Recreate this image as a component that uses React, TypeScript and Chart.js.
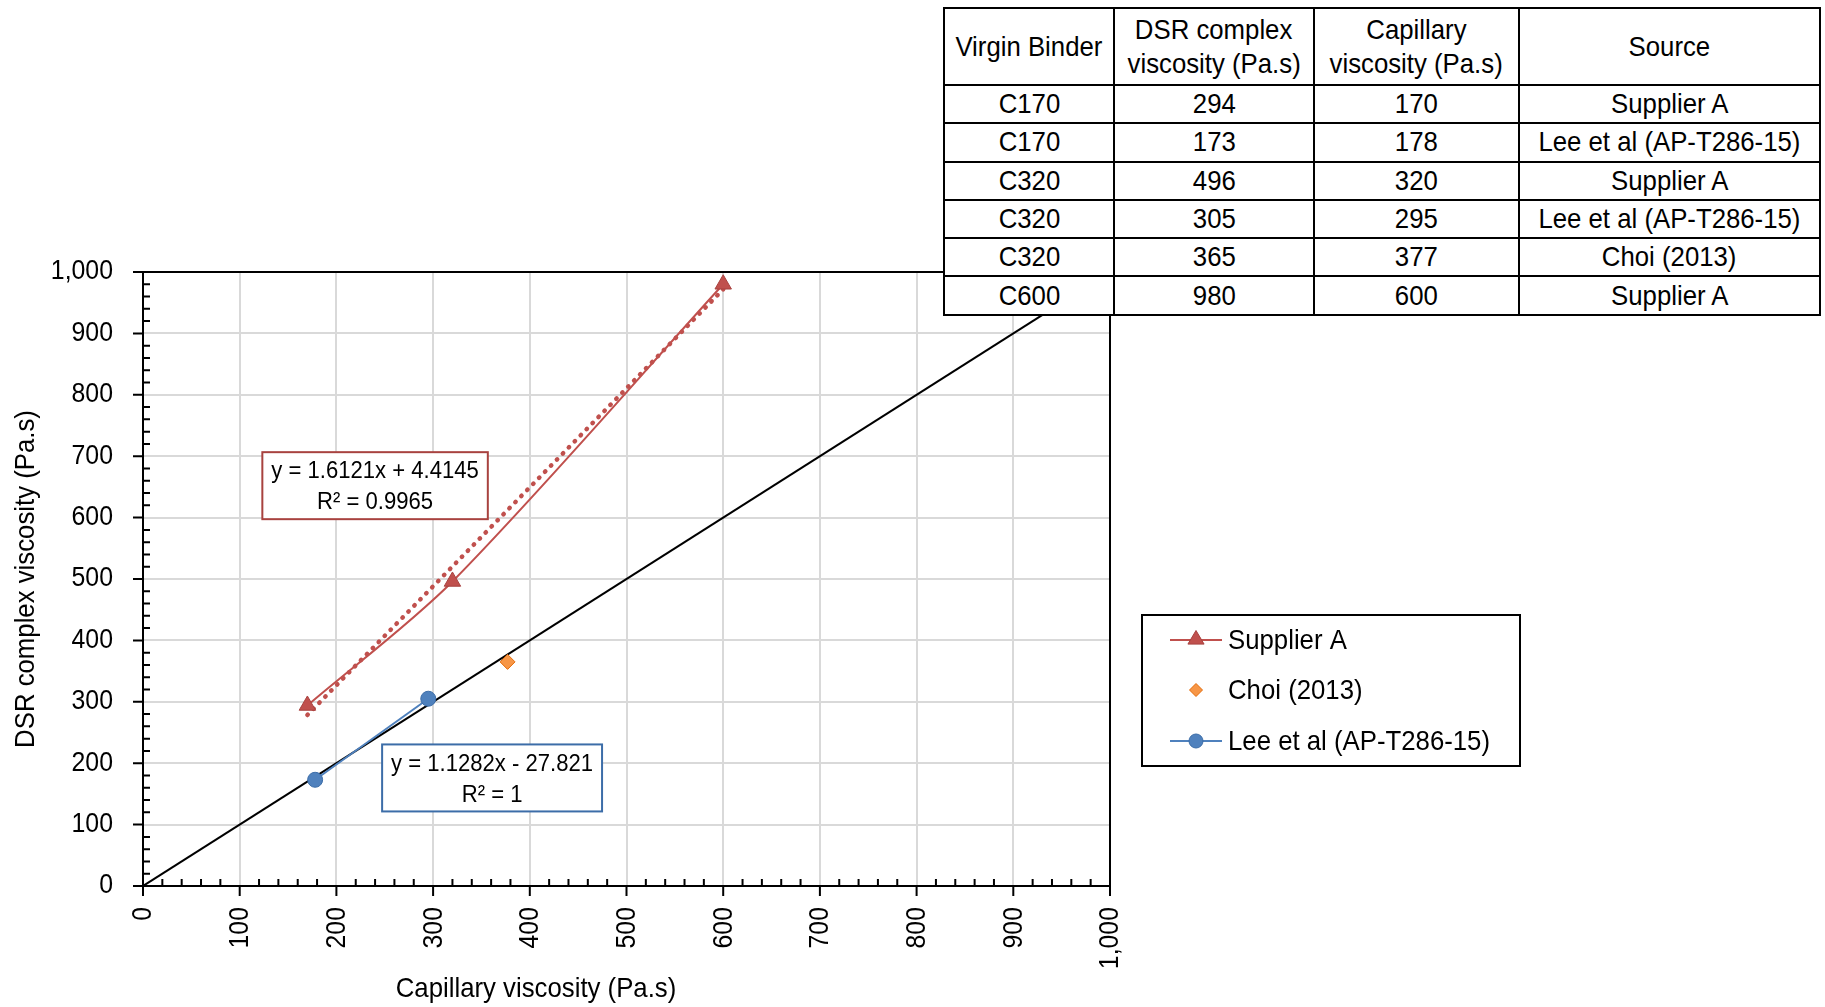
import React, { useEffect, useRef } from 'react';
import { Chart, registerables } from 'chart.js';

Chart.register(...registerables);

const FONT = '"Liberation Sans", Arial, Helvetica, sans-serif';
const SX = 0.92; // horizontal squeeze of the lettering seen in the reference

// ---------- data ----------
const supplierX = [170, 320, 600];
const supplierY = [294, 496, 980];
const choiX = [377];
const choiY = [365];
const leeX = [178, 295];
const leeY = [173, 305];
const equalityX = [0, 1000];
const equalityY = [0, 1000];
const supplierTrendX = [170, 600];
const supplierTrendY = [278.5, 971.7];

const seriesNames = ['Supplier A', 'Choi (2013)', 'Lee et al (AP-T286-15)'];
const tickValues = [0, 100, 200, 300, 400, 500, 600, 700, 800, 900, 1000];
const tickLabels = ['0', '100', '200', '300', '400', '500', '600', '700', '800', '900', '1,000'];
const xTitle = 'Capillary viscosity (Pa.s)';
const yTitle = 'DSR complex viscosity (Pa.s)';

const supplierEquation = ['y = 1.6121x + 4.4145', 'R\u00B2 = 0.9965'];
const leeEquation = ['y = 1.1282x - 27.821', 'R\u00B2 = 1'];
const supplierLabelAt = [240, 652];
const leeLabelAt = [361, 176];

const tableHeader = [['Virgin Binder'], ['DSR complex', 'viscosity (Pa.s)'], ['Capillary', 'viscosity (Pa.s)'], ['Source']];
const tableBinder = ['C170', 'C170', 'C320', 'C320', 'C320', 'C600'];
const tableDSR = ['294', '173', '496', '305', '365', '980'];
const tableCapillary = ['170', '178', '320', '295', '377', '600'];
const tableSource = ['Supplier A', 'Lee et al (AP-T286-15)', 'Supplier A', 'Lee et al (AP-T286-15)', 'Choi (2013)', 'Supplier A'];

// ---------- colours ----------
const RED = '#C0504D';
const RED_DARK = '#A8423F';
const ORANGE = '#F79646';
const ORANGE_DARK = '#E46C0A';
const BLUE = '#4F81BD';
const BLUE_DARK = '#3C6DA8';

const toPts = (xs: number[], ys: number[]) => xs.map((x, i) => ({ x, y: ys[i] }));

function text(
  ctx: CanvasRenderingContext2D,
  s: string,
  x: number,
  y: number,
  size: number,
  align: CanvasTextAlign,
  rot = 0,
) {
  ctx.save();
  ctx.translate(x, y);
  if (rot) ctx.rotate(rot);
  ctx.scale(SX, 1);
  ctx.font = `${size}px ${FONT}`;
  ctx.textAlign = align;
  ctx.textBaseline = 'middle';
  ctx.fillStyle = '#000';
  ctx.fillText(s, 0, 0);
  ctx.restore();
}

function drawTriangle(ctx: CanvasRenderingContext2D, cx: number, cy: number, r: number) {
  ctx.beginPath();
  ctx.moveTo(cx, cy - r);
  ctx.lineTo(cx + r * 0.95, cy + r * 0.6);
  ctx.lineTo(cx - r * 0.95, cy + r * 0.6);
  ctx.closePath();
}

const decorPlugin = {
  id: 'decor',
  afterDraw(chart: any) {
    const { ctx, chartArea: a, scales } = chart;
    const xs = scales.x;
    const ys = scales.y;
    ctx.save();

    // frame + ticks
    ctx.strokeStyle = '#000';
    ctx.lineWidth = 2;
    ctx.strokeRect(a.left, a.top, a.right - a.left, a.bottom - a.top);
    ctx.beginPath();
    for (let v = 0; v <= 1000; v += 20) {
      const px = xs.getPixelForValue(v);
      const py = ys.getPixelForValue(v);
      if (v % 100 === 0) {
        ctx.moveTo(px, a.bottom);
        ctx.lineTo(px, a.bottom + 10);
        ctx.moveTo(a.left - 10, py);
        ctx.lineTo(a.left, py);
      } else {
        ctx.moveTo(px, a.bottom);
        ctx.lineTo(px, a.bottom - 7);
        ctx.moveTo(a.left, py);
        ctx.lineTo(a.left + 7, py);
      }
    }
    ctx.stroke();

    // tick labels
    tickValues.forEach((v, i) => {
      text(ctx, tickLabels[i], a.left - 30, ys.getPixelForValue(v), 27, 'right');
      text(ctx, tickLabels[i], xs.getPixelForValue(v) + 1, a.bottom + 21, 27, 'right', -Math.PI / 2);
    });

    // axis titles
    text(ctx, xTitle, 536, 989, 28, 'center');
    text(ctx, yTitle, 26, (a.top + a.bottom) / 2, 28, 'center', -Math.PI / 2);

    // trendline labels
    const drawLabel = (lines: string[], at: number[], border: string) => {
      const cx = xs.getPixelForValue(at[0]);
      const cy = ys.getPixelForValue(at[1]);
      ctx.font = `24px ${FONT}`;
      const w = Math.max(...lines.map((l) => ctx.measureText(l).width)) * SX + 18;
      const h = 67;
      ctx.fillStyle = '#fff';
      ctx.fillRect(cx - w / 2, cy - h / 2, w, h);
      ctx.strokeStyle = border;
      ctx.lineWidth = 2;
      ctx.strokeRect(cx - w / 2, cy - h / 2, w, h);
      text(ctx, lines[0], cx, cy - 14, 24, 'center');
      text(ctx, lines[1], cx, cy + 17, 24, 'center');
    };
    drawLabel(supplierEquation, supplierLabelAt, RED_DARK);
    drawLabel(leeEquation, leeLabelAt, BLUE_DARK);

    // legend
    const lx = 1142, ly = 615, lw = 378, lh = 151;
    ctx.fillStyle = '#fff';
    ctx.fillRect(lx, ly, lw, lh);
    ctx.strokeStyle = '#000';
    ctx.lineWidth = 2;
    ctx.strokeRect(lx, ly, lw, lh);
    const rows = [640, 690, 741];
    const sx0 = 1170, sx1 = 1222, scx = 1196;
    // Supplier A
    ctx.strokeStyle = RED;
    ctx.lineWidth = 2;
    ctx.beginPath();
    ctx.moveTo(sx0, rows[0]);
    ctx.lineTo(sx1, rows[0]);
    ctx.stroke();
    drawTriangle(ctx, scx, rows[0] - 1, 8.5);
    ctx.fillStyle = RED;
    ctx.fill();
    ctx.strokeStyle = RED_DARK;
    ctx.lineWidth = 1;
    ctx.stroke();
    // Choi
    ctx.beginPath();
    ctx.moveTo(scx, rows[1] - 6.5);
    ctx.lineTo(scx + 6.5, rows[1]);
    ctx.lineTo(scx, rows[1] + 6.5);
    ctx.lineTo(scx - 6.5, rows[1]);
    ctx.closePath();
    ctx.fillStyle = ORANGE;
    ctx.fill();
    ctx.strokeStyle = ORANGE_DARK;
    ctx.stroke();
    // Lee
    ctx.strokeStyle = BLUE;
    ctx.lineWidth = 2;
    ctx.beginPath();
    ctx.moveTo(sx0, rows[2]);
    ctx.lineTo(sx1, rows[2]);
    ctx.stroke();
    ctx.beginPath();
    ctx.arc(scx, rows[2], 7, 0, Math.PI * 2);
    ctx.fillStyle = BLUE;
    ctx.fill();
    ctx.strokeStyle = BLUE_DARK;
    ctx.lineWidth = 1;
    ctx.stroke();
    seriesNames.forEach((n, i) => text(ctx, n, 1228, rows[i] + 1, 28, 'left'));

    ctx.restore();
  },
};

export default function App() {
  const ref = useRef<HTMLCanvasElement>(null);

  useEffect(() => {
    if (!ref.current) return;
    const chart = new Chart(ref.current, {
      type: 'scatter',
      data: {
        datasets: [
          {
            label: seriesNames[0],
            data: toPts(supplierX, supplierY),
            showLine: true,
            tension: 0.3,
            borderColor: RED,
            borderWidth: 2,
            pointStyle: 'triangle',
            pointRadius: 9.5,
            pointBackgroundColor: RED,
            pointBorderColor: RED_DARK,
            pointBorderWidth: 1,
            order: 1,
          },
          {
            label: seriesNames[1],
            data: toPts(choiX, choiY),
            showLine: false,
            pointStyle: 'rectRot',
            pointRadius: 7.5,
            pointBackgroundColor: ORANGE,
            pointBorderColor: ORANGE_DARK,
            pointBorderWidth: 1,
            order: 1,
          },
          {
            label: seriesNames[2],
            data: toPts(leeX, leeY),
            showLine: true,
            borderColor: BLUE,
            borderWidth: 2,
            pointStyle: 'circle',
            pointRadius: 7.5,
            pointBackgroundColor: BLUE,
            pointBorderColor: BLUE_DARK,
            pointBorderWidth: 1,
            order: 1,
          },
          {
            label: 'trend',
            data: toPts(supplierTrendX, supplierTrendY),
            showLine: true,
            borderColor: RED,
            borderWidth: 4.5,
            borderDash: [0.5, 8],
            borderCapStyle: 'round',
            pointRadius: 0,
            order: 5,
          },
          {
            label: 'equality',
            data: toPts(equalityX, equalityY),
            showLine: true,
            borderColor: '#000',
            borderWidth: 2,
            pointRadius: 0,
            order: 10,
          },
        ],
      },
      options: {
        animation: false,
        responsive: false,
        devicePixelRatio: 1,
        layout: { padding: { left: 0, right: 715, top: 272, bottom: 0 } },
        plugins: { legend: { display: false }, tooltip: { enabled: false } },
        scales: {
          x: {
            type: 'linear',
            min: 0,
            max: 1000,
            afterFit: (s: any) => { s.height = 121; },
            ticks: { stepSize: 100, autoSkip: false, display: false },
            grid: { color: '#D9D9D9', lineWidth: 2, drawTicks: false },
            border: { display: false },
          },
          y: {
            type: 'linear',
            min: 0,
            max: 1000,
            afterFit: (s: any) => { s.width = 143; },
            ticks: { stepSize: 100, display: false },
            grid: { color: '#D9D9D9', lineWidth: 2, drawTicks: false },
            border: { display: false },
          },
        },
      },
      plugins: [decorPlugin],
    } as any);
    return () => chart.destroy();
  }, []);

  const cellStyle: React.CSSProperties = {
    border: '2px solid #000',
    padding: 0,
    textAlign: 'center',
    verticalAlign: 'middle',
    background: '#fff',
    whiteSpace: 'nowrap',
  };
  const squeeze: React.CSSProperties = { display: 'inline-block', transform: `scaleX(${SX})` };
  const colWidths = [170, 200, 205, 301];
  const bodyRows = tableBinder.map((b, i) => [b, tableDSR[i], tableCapillary[i], tableSource[i]]);

  return (
    <div style={{ position: 'absolute', left: 0, top: 0, width: 1825, height: 1007, background: '#fff', overflow: 'hidden' }}>
      <canvas ref={ref} width={1825} height={1007} style={{ display: 'block', width: 1825, height: 1007 }} />
      <table
        style={{
          position: 'absolute',
          left: 943,
          top: 7,
          width: 876,
          height: 307,
          borderCollapse: 'collapse',
          tableLayout: 'fixed',
          fontFamily: FONT,
          fontSize: 28,
          color: '#000',
          background: '#fff',
        }}
      >
        <colgroup>
          {colWidths.map((w, i) => <col key={i} style={{ width: w }} />)}
        </colgroup>
        <tbody>
          <tr style={{ height: 77 }}>
            {tableHeader.map((lines, i) => (
              <td key={i} style={{ ...cellStyle, lineHeight: '34px' }}>
                {lines.map((l, j) => <div key={j}><span style={squeeze}>{l}</span></div>)}
              </td>
            ))}
          </tr>
          {bodyRows.map((r, i) => (
            <tr key={i} style={{ height: 38.3 }}>
              {r.map((c, j) => (
                <td key={j} style={{ ...cellStyle, lineHeight: '30px' }}><span style={squeeze}>{c}</span></td>
              ))}
            </tr>
          ))}
        </tbody>
      </table>
    </div>
  );
}
